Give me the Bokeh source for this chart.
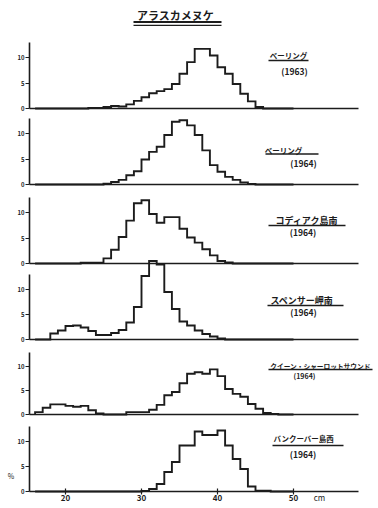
from bokeh.plotting import figure
from bokeh.models import Range1d, LinearAxis, FixedTicker, Label
from bokeh.embed import file_html
from bokeh.resources import INLINE

# ---------------- data (percent of fish per 1-cm length class) ----------------
length_cm = list(range(16, 50))  # lower edge of each 1-cm class (16..49)

bering_1963 = [0, 0, 0, 0, 0, 0, 0, 0.1, 0.1, 0.3, 0.5, 0.4, 0.8, 1.5, 2.2, 3.0, 3.4,
               3.8, 4.8, 6.8, 9.1, 11.7, 11.7, 10.4, 8.1, 6.8, 4.8, 2.9, 1.4, 0.3, 0, 0, 0, 0]
bering_1964 = [0, 0, 0, 0, 0, 0, 0, 0, 0, 0.15, 0.5, 0.9, 1.8, 2.6, 4.9, 6.4, 7.4,
               9.7, 12.3, 12.6, 11.6, 9.7, 6.7, 3.8, 2.5, 1.5, 0.9, 0.4, 0.1, 0, 0, 0, 0, 0]
kodiak_1964 = [0, 0, 0, 0, 0, 0, 0.15, 0.15, 0.15, 1.0, 2.7, 5.2, 8.4, 11.8, 12.4, 9.7, 8.0,
               9.1, 9.1, 6.8, 5.1, 4.1, 2.8, 1.6, 0.5, 0.2, 0, 0, 0, 0, 0, 0, 0, 0]
spencer_1964 = [0, 0, 1.2, 1.8, 2.7, 2.8, 2.4, 1.7, 0.9, 0.9, 1.3, 1.9, 3.4, 6.5, 12.7, 15.7, 15.0,
                9.5, 6.1, 3.6, 2.8, 1.8, 1.1, 0.6, 0.2, 0, 0, 0, 0, 0, 0, 0, 0, 0]
queen_charlotte_1964 = [0.5, 1.4, 2.1, 2.1, 1.8, 1.6, 1.8, 0.9, 0.2, 0, 0, 0, 0.5, 0.5, 0.5, 1.0, 2.0,
                        4.0, 4.7, 6.5, 8.5, 8.8, 8.5, 9.4, 8.0, 5.3, 4.3, 3.7, 2.2, 1.2, 0.3, 0.1, 0, 0]
vancouver_1964 = [0, 0, 0, 0, 0, 0, 0, 0, 0, 0, 0, 0, 0, 0, 0.1, 0.5, 1.5,
                  3.9, 5.9, 9.2, 9.2, 12.0, 11.3, 11.3, 12.2, 9.2, 6.5, 4.5, 1.0, 0.15, 0.15, 0, 0, 0]

series = [bering_1963, bering_1964, kodiak_1964, spencer_1964, queen_charlotte_1964, vancouver_1964]
place_names = ["ベーリング", "ベーリング", "コディアク島南", "スペンサー岬南",
               "クイーン・シャーロットサウンド", "バンクーバー島西"]
years = ["(1963)", "(1964)", "(1964)", "(1964)", "(1964)", "(1964)"]
title_text = "アラスカメヌケ"
y_ticks = [0, 5, 10]
x_ticks = [20, 30, 40, 50]
x_unit = "cm"
y_unit = "%"

# ---------------- layout (page pixel positions) ----------------
JP = "Noto Sans CJK JP"
INK = "#1c1c1c"
W, H = 378, 508
CM20_PX, PX_PER_CM = 65, 7.6
AXIS_LEFT_PX, AXIS_RIGHT_PX = 29, 358


def px_to_cm(px):
    return 20 + (px - CM20_PX) / PX_PER_CM


x_start, x_end = px_to_cm(0), px_to_cm(W)
axis_x0, axis_x1 = px_to_cm(AXIS_LEFT_PX), px_to_cm(AXIS_RIGHT_PX)

baselines = [108, 184, 263, 339, 414, 491]
scales = [5.1, 5.1, 5.1, 5.0, 4.8, 5.0]

name_pos = [(288, 54.5), (283, 149.5), (306.5, 220), (301.5, 300), (320, 365), (303, 437.5)]
name_size = ["7.5px", "7.5px", "9px", "9px", "6.7px", "7.5px"]
underline_pos = [(268, 308, 60), (265, 318, 153.5), (268, 345, 225), (267, 343, 305),
                 (268, 372, 369), (272, 343, 445)]
year_pos = [(294, 70), (303, 162.5), (302.5, 231), (303, 311), (304, 375), (302.5, 453.5)]
year_size = ["8.5px", "8.5px", "8.5px", "8.5px", "7px", "8.5px"]

p = figure(width=W, height=H,
           x_range=Range1d(x_start, x_end), y_range=Range1d(H, 0),
           x_axis_type=None, y_axis_type=None, toolbar_location=None,
           output_backend="svg",
           min_border_left=0, min_border_right=0, min_border_top=0, min_border_bottom=0,
           background_fill_color="white", border_fill_color="white",
           outline_line_color=None)
p.grid.visible = False
p.extra_x_ranges = {"px": Range1d(0, W)}
p.extra_y_ranges = {
    f"p{i}": Range1d(-(H - b) / s, b / s)
    for i, (b, s) in enumerate(zip(baselines, scales))
}

edges = length_cm + [length_cm[-1] + 1]

for i, vals in enumerate(series):
    nm = f"p{i}"
    xs = [edges[0]] + edges
    ys = [0] + list(vals) + [0]
    p.step(x=xs, y=ys, mode="after", y_range_name=nm,
           line_color=INK, line_width=1.9, line_join="miter")

    yax = LinearAxis(y_range_name=nm, fixed_location=axis_x0, bounds=(0, 13),
                     ticker=FixedTicker(ticks=y_ticks))
    yax.axis_line_color = INK
    yax.axis_line_width = 1.6
    yax.major_tick_in = 0
    yax.major_tick_out = 4
    yax.major_tick_line_color = INK
    yax.major_tick_line_width = 1.2
    yax.minor_tick_in = 0
    yax.minor_tick_out = 0
    yax.major_label_standoff = 1
    yax.major_label_text_font = JP
    yax.major_label_text_font_size = "6px"
    yax.major_label_text_font_style = "bold"
    yax.major_label_text_color = INK
    p.add_layout(yax, "left")

    last = (i == len(series) - 1)
    xax = LinearAxis(y_range_name=nm, fixed_location=0, bounds=(axis_x0, axis_x1),
                     ticker=FixedTicker(ticks=x_ticks if last else []))
    xax.axis_line_color = INK
    xax.axis_line_width = 1.6
    xax.minor_tick_in = 0
    xax.minor_tick_out = 0
    if last:
        xax.major_tick_in = 3
        xax.major_tick_out = 3
        xax.major_tick_line_color = INK
        xax.major_tick_line_width = 1.2
        xax.major_label_standoff = 0
        xax.major_label_text_font = JP
        xax.major_label_text_font_size = "8px"
        xax.major_label_text_font_style = "bold"
        xax.major_label_text_color = INK
    else:
        xax.major_tick_line_color = None
        xax.major_label_text_font_size = "0px"
    p.add_layout(xax, "below")

    nx, ny = name_pos[i]
    p.add_layout(Label(x=nx, y=ny, x_range_name="px", text=place_names[i],
                       text_font=JP, text_font_size=name_size[i], text_font_style="bold",
                       text_color=INK, text_align="center", text_baseline="middle"))
    yx, yy = year_pos[i]
    p.add_layout(Label(x=yx, y=yy, x_range_name="px", text=years[i],
                       text_font=JP, text_font_size=year_size[i], text_font_style="bold",
                       text_color=INK, text_align="center", text_baseline="middle"))

ux0 = [u[0] for u in underline_pos]
ux1 = [u[1] for u in underline_pos]
uy = [u[2] for u in underline_pos]
p.segment(x0=ux0, y0=uy, x1=ux1, y1=uy, x_range_name="px", line_color=INK, line_width=1.3)

# title with double underline
p.add_layout(Label(x=175, y=14, x_range_name="px", text=title_text, text_font=JP,
                   text_font_size="11px", text_font_style="bold", text_color=INK,
                   text_align="center", text_baseline="middle"))
p.segment(x0=[133, 133], y0=[21.5, 24.8], x1=[221, 221], y1=[21.5, 24.8],
          x_range_name="px", line_color=INK, line_width=[1.8, 1.2])

# units
p.add_layout(Label(x=319, y=497, x_range_name="px", text=x_unit, text_font=JP,
                   text_font_size="8px", text_color=INK, text_align="center",
                   text_baseline="middle"))
p.add_layout(Label(x=10.5, y=475, x_range_name="px", text=y_unit, text_font=JP,
                   text_font_size="7px", text_color=INK, text_align="center",
                   text_baseline="middle"))

open("out.html", "w").write(file_html(p, INLINE))
